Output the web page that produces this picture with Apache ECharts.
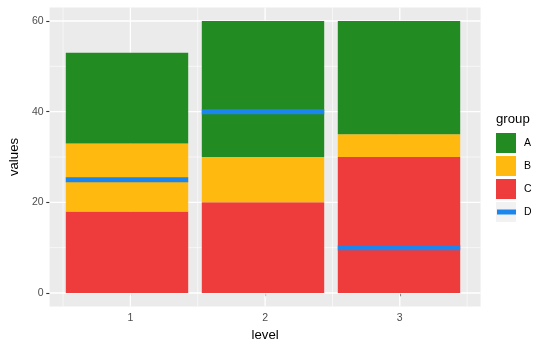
<!DOCTYPE html>
<html>
<head>
<meta charset="utf-8">
<script src="https://cdn.jsdelivr.net/npm/echarts@6/dist/echarts.min.js"></script>
<style>
  html, body { margin: 0; padding: 0; background: #fff; }
  #main { width: 541px; height: 352px; }
</style>
</head>
<body>
<div id="main"></div>
<script>
// data
const levels = ["1", "2", "3"];
const valuesA = [20, 30, 25];
const valuesB = [15, 10, 5];
const valuesC = [18, 20, 30];
const valuesD = [25, 40, 10];

const yBreaks = [0, 20, 40, 60];
const yMinor = [10, 30, 50];
const xBreaks = [1, 2, 3];
const xMinor = [0.5, 1.5, 2.5, 3.5];

const colors = { A: "#228B22", B: "#FFB90F", C: "#EE3B3B", D: "#1C86EE" };
const font = "Liberation Sans, Arial, sans-serif";

// grid lines drawn across the panel, horizontal or vertical
const gridLineSeries = (vals, dir, width) => ({
  type: "custom",
  silent: true,
  z: 1,
  xAxisIndex: 0,
  yAxisIndex: 0,
  data: vals.map((v) => [v]),
  renderItem: (params, api) => {
    const cs = params.coordSys;
    if (dir === "h") {
      const y = api.coord([1, api.value(0)])[1];
      return { type: "line", shape: { x1: cs.x, y1: y, x2: cs.x + cs.width, y2: y }, style: { stroke: "#fff", lineWidth: width } };
    }
    const x = api.coord([api.value(0), 0])[0];
    return { type: "line", shape: { x1: x, y1: cs.y, x2: x, y2: cs.y + cs.height }, style: { stroke: "#fff", lineWidth: width } };
  },
});

const chart = echarts.init(document.getElementById("main"));

const option = {
  animation: false,
  textStyle: { fontFamily: font },
  grid: [
    // full panel (continuous x from 0.4 to 3.6)
    { left: 45.4, right: 60.4, top: 7.4, bottom: 45.4, show: true, backgroundColor: "#EBEBEB", borderWidth: 0 },
    // inner grid for the bars: one band per level
    { left: 59, right: 74, top: 7.4, bottom: 45.4 },
  ],
  xAxis: [
    {
      type: "value",
      gridIndex: 0,
      min: 0.4,
      max: 3.6,
      name: "level",
      nameLocation: "middle",
      nameGap: 22,
      nameTextStyle: { color: "#000", fontSize: 13.2, fontFamily: font },
      axisLine: { show: false },
      axisTick: { show: true, customValues: xBreaks, length: 3.3, lineStyle: { color: "#333", width: 1.1 } },
      axisLabel: { customValues: xBreaks, color: "#4D4D4D", fontSize: 10.5, margin: 6, fontFamily: font },
      splitLine: { show: false },
    },
    { type: "category", gridIndex: 1, data: levels, show: false },
  ],
  yAxis: [
    {
      type: "value",
      gridIndex: 0,
      min: -3,
      max: 63,
      name: "values",
      nameLocation: "middle",
      nameGap: 25,
      nameRotate: 90,
      nameTextStyle: { color: "#000", fontSize: 13.2, fontFamily: font },
      axisLine: { show: false },
      axisTick: { show: true, customValues: yBreaks, length: 3.3, lineStyle: { color: "#333", width: 1.1 } },
      axisLabel: { customValues: yBreaks, color: "#4D4D4D", fontSize: 10.5, margin: 6, fontFamily: font },
      splitLine: { show: false },
    },
    { type: "value", gridIndex: 1, min: -3, max: 63, show: false, splitLine: { show: false } },
  ],
  legend: {
    orient: "vertical",
    left: 496,
    top: 133,
    itemWidth: 20,
    itemHeight: 20,
    itemGap: 3,
    padding: 0,
    textStyle: { color: "#000", fontSize: 10.5, fontFamily: font, padding: [0, 0, 0, 3] },
    data: [
      { name: "A", icon: "rect" },
      { name: "B", icon: "rect" },
      { name: "C", icon: "rect" },
      { name: "D", icon: "rect", itemStyle: { color: "#F2F2F2" } },
    ],
  },
  graphic: [
    { type: "text", left: 496, top: 113, style: { text: "group", fontSize: 13.2, fontFamily: font, fill: "#000" } },
    { type: "rect", left: 497, top: 209.5, z: 100, shape: { width: 19, height: 5 }, style: { fill: colors.D } },
  ],
  series: [
    gridLineSeries(yMinor, "h", 0.6),
    gridLineSeries(xMinor, "v", 0.6),
    gridLineSeries(yBreaks, "h", 1.3),
    gridLineSeries(xBreaks, "v", 1.3),
    { name: "C", type: "bar", stack: "g", xAxisIndex: 1, yAxisIndex: 1, barWidth: "90%", z: 2, itemStyle: { color: colors.C }, data: valuesC },
    { name: "B", type: "bar", stack: "g", xAxisIndex: 1, yAxisIndex: 1, barWidth: "90%", z: 2, itemStyle: { color: colors.B }, data: valuesB },
    { name: "A", type: "bar", stack: "g", xAxisIndex: 1, yAxisIndex: 1, barWidth: "90%", z: 2, itemStyle: { color: colors.A }, data: valuesA },
    {
      name: "D",
      type: "custom",
      xAxisIndex: 1,
      yAxisIndex: 1,
      z: 3,
      itemStyle: { color: colors.D },
      data: valuesD.map((v, i) => [i, v]),
      renderItem: (params, api) => {
        const c = api.coord([api.value(0), api.value(1)]);
        const w = api.size([1, 0])[0] * 0.9;
        return {
          type: "line",
          shape: { x1: c[0] - w / 2, y1: c[1], x2: c[0] + w / 2, y2: c[1] },
          style: { stroke: colors.D, lineWidth: 5 },
        };
      },
    },
  ],
};

chart.setOption(option);
</script>
</body>
</html>
